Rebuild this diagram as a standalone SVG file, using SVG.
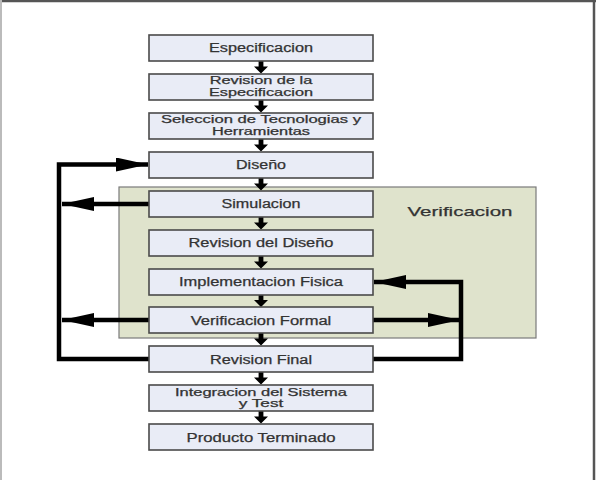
<svg xmlns="http://www.w3.org/2000/svg" width="596" height="480" viewBox="0 0 596 480">
<style>
.box{fill:#e9ecf6;stroke:#4a4a4a;stroke-width:1.6}
.t{font-family:"Liberation Sans",Arial,sans-serif;font-size:12px;fill:#333;text-anchor:middle;stroke:#333;stroke-width:0.25}
.t2{font-size:10px}
.c{fill:none;stroke:#000;stroke-width:4.5;stroke-linejoin:miter}
</style>
<defs>
<marker id="ah" markerUnits="userSpaceOnUse" markerWidth="33" markerHeight="14" refX="32" refY="7" orient="auto">
<path d="M0,0 L32,7 L0,14 z" fill="#000"/>
</marker>
<path id="va" d="M-2.4,0 V5.5 H-7 L0,12.5 L7,5.5 H2.4 V0 z" fill="#000"/>
</defs>
<rect x="0" y="0" width="596" height="480" fill="#fff"/>
<line x1="0" y1="1" x2="596" y2="1" stroke="#555" stroke-width="2.5"/>
<line x1="1" y1="0" x2="1" y2="480" stroke="#bbb" stroke-width="2"/>
<line x1="594" y1="0" x2="594" y2="480" stroke="#555" stroke-width="2.5"/>
<g id="verificacion-region">
<rect x="119" y="187" width="417" height="151" fill="#dfe3cc" stroke="#7a7a7a" stroke-width="1.2"/>
<text x="460" y="215.5" style="font-family:'Liberation Sans',Arial,sans-serif;font-size:13.5px;fill:#333;text-anchor:middle;stroke:#333;stroke-width:0.25" textLength="105" lengthAdjust="spacingAndGlyphs">Verificacion</text>
</g>
<g id="connectors">
<use href="#va" x="261" y="61"/>
<use href="#va" x="261" y="100"/>
<use href="#va" x="261" y="139"/>
<use href="#va" x="261" y="178"/>
<use href="#va" x="261" y="217"/>
<use href="#va" x="261" y="256"/>
<use href="#va" x="261" y="294.5"/>
<use href="#va" x="261" y="333"/>
<use href="#va" x="261" y="372"/>
<use href="#va" x="261" y="411"/>
<path class="c" d="M150,359 H59 V164.5 H148" marker-end="url(#ah)"/>
<path class="c" d="M150,204 H62" marker-end="url(#ah)"/>
<path class="c" d="M150,320 H62" marker-end="url(#ah)"/>
<path class="c" d="M372,320 H460" marker-end="url(#ah)"/>
<path class="c" d="M372,359 H461 V282 H374" marker-end="url(#ah)"/>
</g>
<g id="n-especificacion"><rect class="box" x="149" y="35" width="224" height="26"/><text class="t" x="261" y="52" textLength="104" lengthAdjust="spacingAndGlyphs">Especificacion</text></g>
<g id="n-revision-esp"><rect class="box" x="149" y="74" width="224" height="26"/><text class="t t2" x="261" y="84" textLength="102.6" lengthAdjust="spacingAndGlyphs">Revision de la</text><text class="t t2" x="261" y="95.5" textLength="104" lengthAdjust="spacingAndGlyphs">Especificacion</text></g>
<g id="n-seleccion"><rect class="box" x="149" y="113" width="224" height="26"/><text class="t t2" x="261" y="123" textLength="200" lengthAdjust="spacingAndGlyphs">Seleccion de Tecnologias y</text><text class="t t2" x="261" y="134.5" textLength="98" lengthAdjust="spacingAndGlyphs">Herramientas</text></g>
<g id="n-diseno"><rect class="box" x="149" y="152" width="224" height="26"/><text class="t" x="261" y="169" textLength="50" lengthAdjust="spacingAndGlyphs">Diseño</text></g>
<g id="n-simulacion"><rect class="box" x="149" y="191" width="224" height="26"/><text class="t" x="261" y="208" textLength="79" lengthAdjust="spacingAndGlyphs">Simulacion</text></g>
<g id="n-revision-diseno"><rect class="box" x="149" y="230" width="224" height="26"/><text class="t" x="261" y="247" textLength="145" lengthAdjust="spacingAndGlyphs">Revision del Diseño</text></g>
<g id="n-implementacion"><rect class="box" x="149" y="269" width="224" height="26"/><text class="t" x="261" y="286" textLength="164" lengthAdjust="spacingAndGlyphs">Implementacion Fisica</text></g>
<g id="n-verificacion-formal"><rect class="box" x="149" y="307" width="224" height="26"/><text class="t" x="261" y="324.5" textLength="140.6" lengthAdjust="spacingAndGlyphs">Verificacion Formal</text></g>
<g id="n-revision-final"><rect class="box" x="149" y="346" width="224" height="26"/><text class="t" x="261" y="363.5" textLength="102" lengthAdjust="spacingAndGlyphs">Revision Final</text></g>
<g id="n-integracion"><rect class="box" x="149" y="385" width="224" height="26"/><text class="t t2" x="261" y="395.5" textLength="172" lengthAdjust="spacingAndGlyphs">Integracion del Sistema</text><text class="t t2" x="261" y="407" textLength="44.5" lengthAdjust="spacingAndGlyphs">y Test</text></g>
<g id="n-producto"><rect class="box" x="149" y="424" width="224" height="26"/><text class="t" x="261" y="441.5" textLength="149" lengthAdjust="spacingAndGlyphs">Producto Terminado</text></g>
</svg>
